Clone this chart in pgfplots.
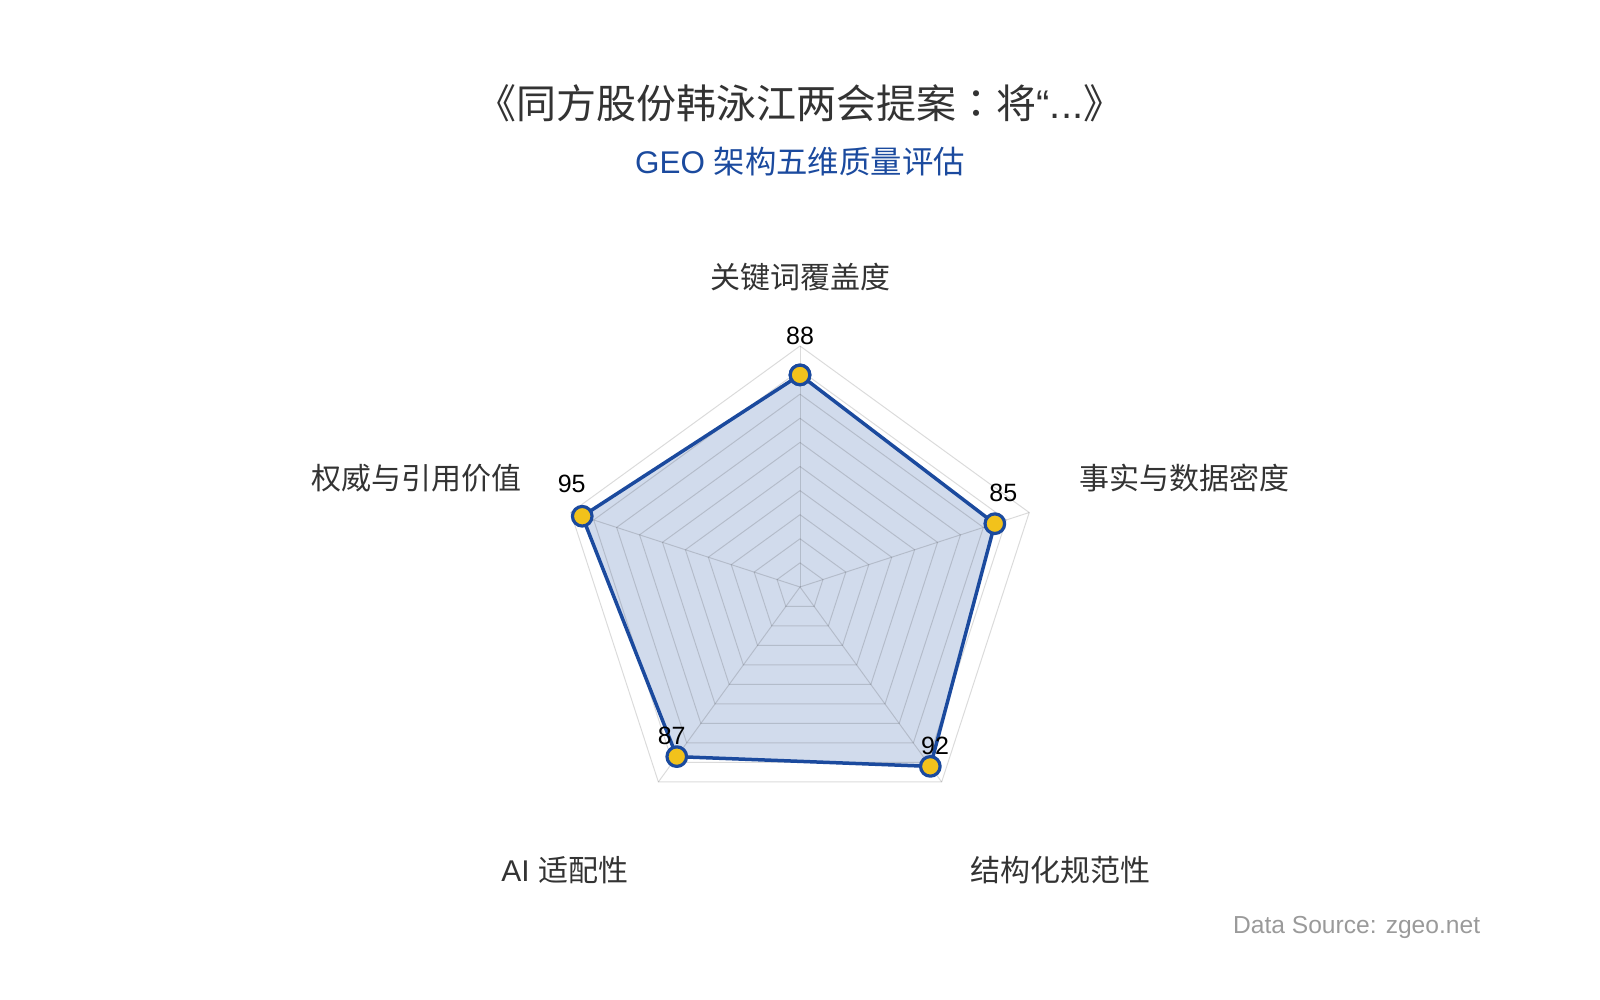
\documentclass[border=0pt]{standalone}
\usepackage{fontspec}
\setmainfont{Liberation Sans}
\newfontfamily\cjk{Noto Sans CJK SC}
\newfontfamily\cjktc{Noto Sans CJK TC}
\usepackage{pgfplots}
\usepgfplotslibrary{polar}
\pgfplotsset{compat=1.18}

\definecolor{geoblue}{HTML}{1B4A9E}
\definecolor{geoyellow}{HTML}{F2C21B}
\definecolor{textgray}{HTML}{333333}
\definecolor{srcgray}{HTML}{9A9A9A}

\begin{document}
\begin{tikzpicture}
\begin{axis}[
    scale only axis,
    width=800pt, height=500pt,
    xmin=-331.95, xmax=331.95,
    ymin=-171.37, ymax=243.57,
    hide axis,
    clip=false,
    data cs=polar,
]
% canvas
\path (rel axis cs:0,0) rectangle (rel axis cs:1,1);

% filled area (angle, score)
\addplot[draw=none, fill=geoblue, fill opacity=0.2]
    coordinates {(90,88) (18,85) (-54,92) (-126,87) (162,95) (90,88)};

% pentagon grid
\pgfplotsinvokeforeach{10,20,30,40,50,60,70,80,90,100}{
\addplot[black, draw opacity=0.14, line width=0.5pt]
    coordinates {(90,#1) (18,#1) (-54,#1) (-126,#1) (162,#1) (90,#1)};
}
\pgfplotsinvokeforeach{90,18,-54,-126,162}{
\addplot[black, draw opacity=0.14, line width=0.5pt]
    coordinates {(#1,0) (#1,100)};
}

% series line and markers
\addplot[geoblue, line width=1.75pt, line join=round,
    mark=*, mark size=4.9pt,
    mark options={fill=geoyellow, draw=geoblue, line width=1.6pt}]
    coordinates {(90,88) (18,85) (-54,92) (-126,87) (162,95) (90,88)};

% value labels
\node[font=\fontsize{12.5pt}{14pt}\selectfont] at (rel axis cs:0.5,0.664) {88};
\node[font=\fontsize{12.5pt}{14pt}\selectfont] at (rel axis cs:0.6271,0.5073) {85};
\node[font=\fontsize{12.5pt}{14pt}\selectfont] at (rel axis cs:0.5844,0.254) {92};
\node[font=\fontsize{12.5pt}{14pt}\selectfont] at (rel axis cs:0.4198,0.264) {87};
\node[font=\fontsize{12.5pt}{14pt}\selectfont] at (rel axis cs:0.3573,0.516) {95};

% dimension names
\node[font=\cjk\fontsize{15pt}{18pt}\selectfont, text=textgray] at (rel axis cs:0.5,0.723) {关键词覆盖度};
\node[font=\cjk\fontsize{15pt}{18pt}\selectfont, text=textgray] at (rel axis cs:0.74,0.522) {事实与数据密度};
\node[font=\cjk\fontsize{15pt}{18pt}\selectfont, text=textgray] at (rel axis cs:0.663,0.13) {结构化规范性};
\node[font=\fontsize{15pt}{18pt}\selectfont, text=textgray] at (rel axis cs:0.353,0.13) {AI {\cjk 适配性}};
\node[font=\cjk\fontsize{15pt}{18pt}\selectfont, text=textgray] at (rel axis cs:0.2606,0.522) {权威与引用价值};

% titles
\node[font=\fontsize{20pt}{24pt}\selectfont, text=textgray] at (rel axis cs:0.5,0.897)
    {{\cjk 《同方股份韩泳江两会提案}{\cjktc ：}{\cjk 将}“...{\cjk 》}};
\node[font=\fontsize{15.7pt}{19pt}\selectfont, text=geoblue] at (rel axis cs:0.5,0.838)
    {GEO {\cjk 架构五维质量评估}};

% source
\node[font=\fontsize{12.3pt}{14pt}\selectfont, text=srcgray, anchor=east] at (rel axis cs:0.9295,0.073)
    {Data Source: zgeo.net};
\end{axis}
\end{tikzpicture}
\end{document}
